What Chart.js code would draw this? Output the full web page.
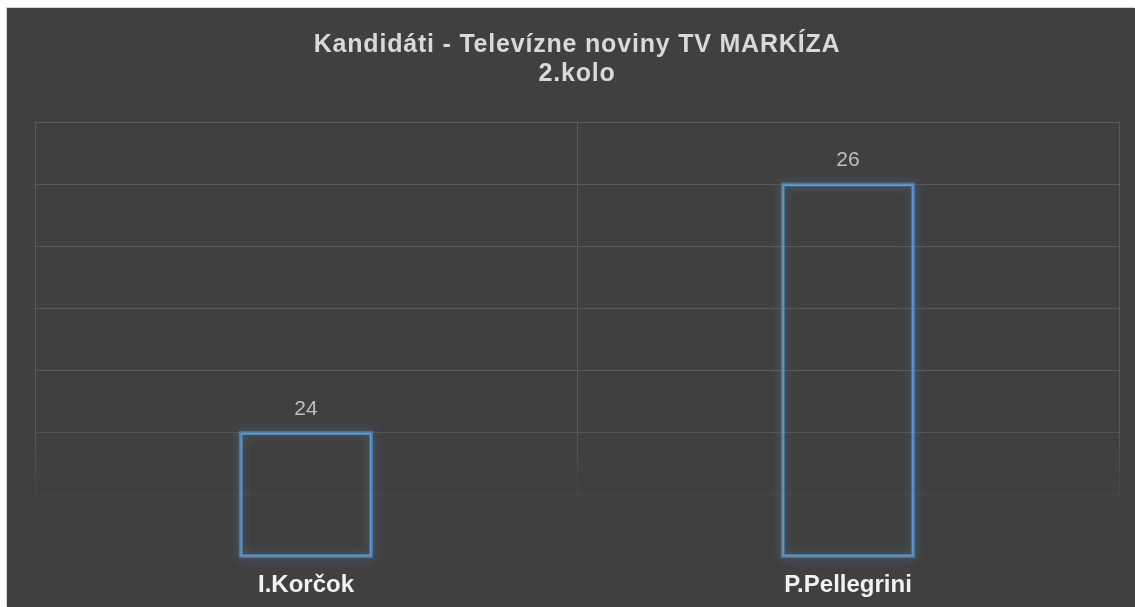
<!DOCTYPE html>
<html lang="sk">
<head>
  <meta charset="UTF-8" />
  <title>Kandidáti - Televízne noviny TV MARKÍZA</title>
  <script src="https://cdn.jsdelivr.net/npm/chart.js"></script>
  <style>
    html, body {
      margin: 0;
      padding: 0;
      background: #ffffff;
      overflow: hidden;
    }
    .chart-box {
      position: absolute;
      left: 7px;
      top: 8px;
      width: 1128px;
      height: 599px;
      background: #404040;
      box-shadow: -1px -1px 0 #d2d2d2;
    }
  </style>
</head>
<body>
  <div class="chart-box">
    <canvas id="chart"></canvas>
  </div>

  <script>
    // Data
    const titleLines = ["Kandidáti - Televízne noviny TV MARKÍZA", "2.kolo"];
    const candidates = ["I.Korčok", "P.Pellegrini"];
    const votes = [24, 26];
    const yMin = 23;
    const yMax = 26.5;
    const yStep = 0.5;

    const gridColor = "#5a5a5a";

    // vertical grid lines fade out towards the bottom
    function fadeGrid(chart) {
      const area = chart.chartArea;
      if (!area) return gridColor;
      const g = chart.ctx.createLinearGradient(0, area.top, 0, area.bottom);
      g.addColorStop(0, gridColor);
      g.addColorStop(0.7, gridColor);
      g.addColorStop(0.89, "rgba(90,90,90,0)");
      g.addColorStop(1, "rgba(90,90,90,0)");
      return g;
    }

    function rowGrid(ctx) {
      const v = ctx.tick ? ctx.tick.value : 0;
      if (v <= yMin) return "rgba(0,0,0,0)";
      if (v < 24) return "#484848";
      if (v < 24.5) return "#535353";
      return gridColor;
    }

    // soft blue glow round the bar outlines
    const glowPlugin = {
      id: "glow",
      beforeDatasetsDraw(chart) {
        const ctx = chart.ctx;
        const meta = chart.getDatasetMeta(0);
        ctx.save();
        ctx.shadowColor = "rgba(91,155,213,0.95)";
        ctx.shadowBlur = 10;
        ctx.strokeStyle = "rgba(91,155,213,0.55)";
        ctx.lineWidth = 3;
        meta.data.forEach((bar) => {
          const w = bar.width;
          ctx.strokeRect(bar.x - w / 2, bar.y, w, bar.base - bar.y);
        });
        ctx.restore();
      }
    };

    // value labels above bars + two-line title
    const labelPlugin = {
      id: "labels",
      afterDraw(chart) {
        const ctx = chart.ctx;
        const meta = chart.getDatasetMeta(0);
        ctx.save();
        ctx.font = '21px "Liberation Sans", Arial, sans-serif';
        ctx.fillStyle = "#bfbfbf";
        ctx.textAlign = "center";
        ctx.textBaseline = "alphabetic";
        meta.data.forEach((bar, i) => {
          ctx.fillText(String(votes[i]), bar.x, bar.y - 18);
        });

        const area = chart.chartArea;
        const cx = (area.left + area.right) / 2;
        ctx.font = 'bold 25px "Liberation Sans", Arial, sans-serif';
        ctx.fillStyle = "#d9d9d9";
        ctx.letterSpacing = "0.8px";
        ctx.fillText(titleLines[0], cx, 44);
        ctx.fillText(titleLines[1], cx, 73);
        ctx.restore();
      }
    };

    new Chart(document.getElementById("chart"), {
      type: "bar",
      data: {
        labels: candidates,
        datasets: [{
          data: votes,
          base: yMin,
          backgroundColor: "rgba(0,0,0,0)",
          borderColor: "#5b9bd5",
          borderWidth: 2,
          borderSkipped: false,
          categoryPercentage: 1,
          barPercentage: 0.242
        }]
      },
      options: {
        responsive: true,
        maintainAspectRatio: false,
        animation: false,
        layout: {
          padding: { left: 28, right: 16, top: 114, bottom: 7 }
        },
        plugins: {
          legend: { display: false },
          title: { display: false },
          tooltip: { enabled: false }
        },
        scales: {
          x: {
            border: { display: false },
            grid: {
              offset: true,
              drawTicks: false,
              color: (c) => fadeGrid(c.chart)
            },
            ticks: {
              color: "#f2f2f2",
              padding: 14,
              font: { family: '"Liberation Sans", Arial, sans-serif', size: 24, weight: "bold" }
            },
            afterFit(scale) {
              scale.height = 43;
            }
          },
          y: {
            min: yMin,
            max: yMax,
            border: { display: false },
            grid: {
              drawTicks: false,
              color: rowGrid
            },
            ticks: {
              display: false,
              stepSize: yStep
            }
          }
        }
      },
      plugins: [glowPlugin, labelPlugin]
    });
  </script>
</body>
</html>
